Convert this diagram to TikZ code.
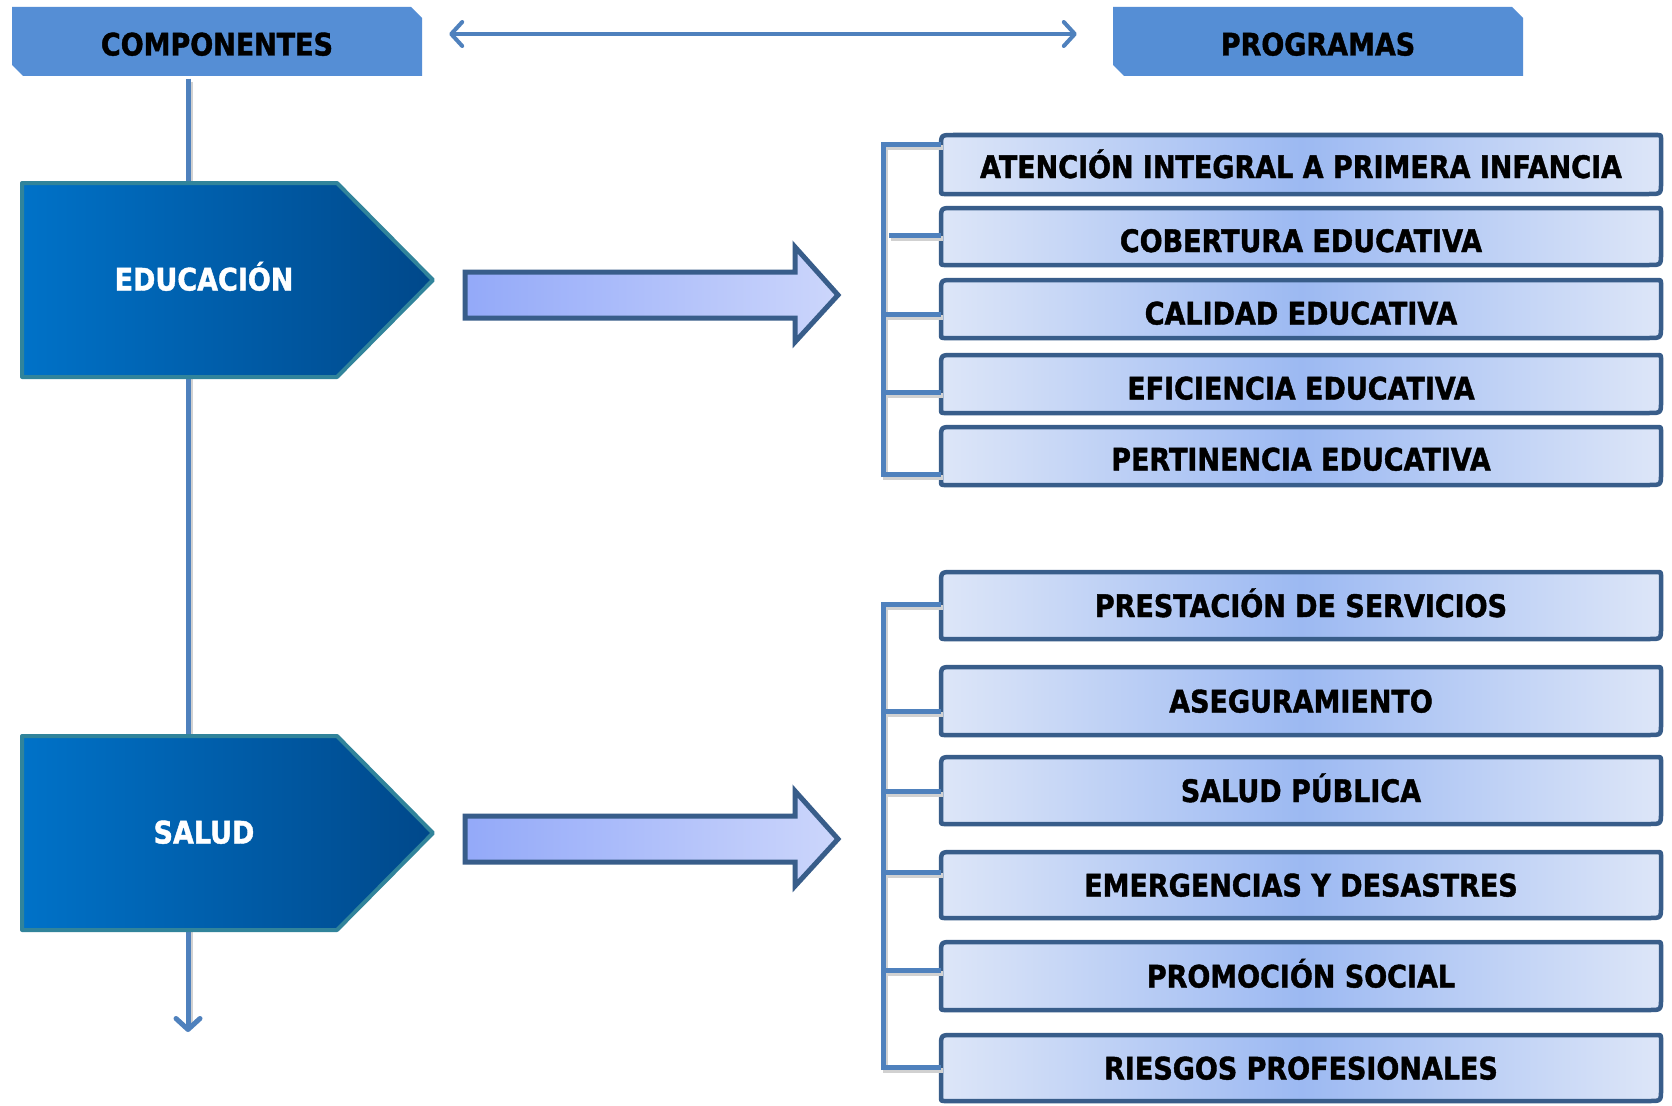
\documentclass[tikz,border=0pt]{standalone}
\usepackage{fontspec}
\setmainfont{DejaVu Sans}[FakeStretch=0.87, BoldFeatures={FakeBold=1.3}]
\usetikzlibrary{arrows.meta,calc}
\definecolor{hdr}{HTML}{558ED5}
\definecolor{conn}{HTML}{4F81BD}
\definecolor{pentb}{HTML}{31849B}
\definecolor{pentl}{HTML}{0072C8}
\definecolor{pentr}{HTML}{00488A}
\definecolor{arrb}{HTML}{385D8A}
\definecolor{arrl}{HTML}{93A9F9}
\definecolor{arrr}{HTML}{CCD6FB}
\definecolor{boxl}{HTML}{DDE6F8}
\definecolor{boxm}{HTML}{9CB9F2}
% optional node options, name, top, bottom (outer edges, px), text
\newcommand\progbox[5][]{%
  \path[boxshape] (941,{-#4+5}) -- (941,{-#3-14}) .. controls (941,{-#3-2}) .. (953,{-#3-2})
     -- (1658,{-#3-2}) .. controls (1661,{-#3-2}) .. (1661,{-#3-5})
     -- (1661,{-#4+14}) .. controls (1661,{-#4+2}) .. (1649,{-#4+2}) -- (944,{-#4+2}) .. controls (941,{-#4+2}) .. cycle;
  \node[lbl, minimum width=720pt, minimum height={(#4-#3-4)*1pt}, inner sep=0pt, #1] (#2) at (1301,{-(#3+#4)/2}) {#5};}
\begin{document}
\begin{tikzpicture}[x=1pt,y=1pt,
  lbl/.style={font=\fontsize{31}{36}\selectfont\bfseries, text=black, text height=23pt, text depth=0pt},
  wlbl/.style={font=\fontsize{31}{36}\selectfont\bfseries, text=white, text height=23pt, text depth=0pt},
  hdrshape/.style={fill=hdr},
  pentshape/.style={draw=pentb, line width=4pt, line join=round, left color=pentl, right color=pentr},
  blockarrow/.style={draw=arrb, line width=5pt, line join=miter, left color=arrl, right color=arrr},
  boxshape/.style={draw=arrb, line width=4.5pt, line join=round, left color=boxl, right color=boxl, middle color=boxm},
  tick/.style={draw=conn, line width=5pt},
  tickshadow/.style={draw=black!18, line width=5pt, transform canvas={shift={(2pt,-3pt)}}}
]
\useasboundingbox (0,0) rectangle (1672,-1105);
\fill[white] (0,0) rectangle (1672,-1105);

% headers
\path[hdrshape] (12,-7) -- (411,-7) -- (422,-18) -- (422,-76) -- (23,-76) -- (12,-65) -- cycle;
\node[lbl, minimum width=410pt, minimum height=69pt, inner sep=0pt] (comp) at (217,-44) {COMPONENTES};
\path[hdrshape] (1113,-7) -- (1512,-7) -- (1523,-18) -- (1523,-76) -- (1124,-76) -- (1113,-65) -- cycle;
\node[lbl, minimum width=410pt, minimum height=69pt, inner sep=0pt] (prog) at (1318,-44) {PROGRAMAS};

\draw[conn, line width=4pt, {Straight Barb[round,length=11pt,width=24pt]}-{Straight Barb[round,length=11pt,width=24pt]},
      shorten <=27pt, shorten >=36pt] ($(comp.east)+(0,10)$) -- ($(prog.west)+(0,10)$);

% vertical spine
\coordinate (vend) at (188,-1032);
\draw[tickshadow] (comp.south -| vend) -- ($(vend)+(0,12)$);
\draw[conn, line width=5pt, -{Straight Barb[round,length=11pt,width=24pt]}] (comp.south -| vend) -- (vend);

% pentagons
\path[pentshape] (22,-183) -- (337,-183) -- (433,-280) -- (337,-377) -- (22,-377) -- cycle;
\node[wlbl] (edu) at (204,-279) {EDUCACIÓN};
\path[pentshape] (22,-736) -- (337,-736) -- (433,-833) -- (337,-930) -- (22,-930) -- cycle;
\node[wlbl] (sal) at (204,-832) {SALUD};

% block arrows
\path[blockarrow] (465,-272) -- (795,-272) -- (795,-247) -- (838,-295) -- (795,-342) -- (795,-318) -- (465,-318) -- cycle;
\path[blockarrow] (465,-816) -- (795,-816) -- (795,-791) -- (838,-839) -- (795,-886) -- (795,-862) -- (465,-862) -- cycle;

% program boxes
\progbox[text height=27pt]{b1}{133}{196}{ATENCIÓN INTEGRAL A PRIMERA INFANCIA}
\progbox[text height=31pt]{b2}{206}{267}{COBERTURA EDUCATIVA}
\progbox[text height=31pt]{b3}{278}{340}{CALIDAD EDUCATIVA}
\progbox[text height=31pt]{b4}{353}{415}{EFICIENCIA EDUCATIVA}
\progbox[text height=29pt]{b5}{425}{487}{PERTINENCIA EDUCATIVA}
\progbox{b6}{570}{641}{PRESTACIÓN DE SERVICIOS}
\progbox{b7}{665}{737}{ASEGURAMIENTO}
\progbox{b8}{755}{826}{SALUD PÚBLICA}
\progbox{b9}{850}{920}{EMERGENCIAS Y DESASTRES}
\progbox{b10}{940}{1012}{PROMOCIÓN SOCIAL}
\progbox{b11}{1033}{1103}{RIESGOS PROFESIONALES}

% education bracket
\coordinate (e1) at (883,-144);
\coordinate (e2) at (889,-235);
\coordinate (e3) at (883,-314);
\coordinate (e4) at (883,-392);
\coordinate (e5) at (883,-474);
\draw[tickshadow] (e1 -| b1.west) -- (e1) -- (e5) -- (e5 -| b5.west);
\foreach \c/\b in {e2/b2,e3/b3,e4/b4} \draw[tickshadow] (\c) -- (\c -| \b.west);
\draw[tick] (e1 -| b1.west) -- (e1) -- (e5) -- (e5 -| b5.west);
\foreach \c/\b in {e2/b2,e3/b3,e4/b4} \draw[tick] (\c) -- (\c -| \b.west);

% health bracket
\coordinate (s1) at (883,-604);
\coordinate (s2) at (883,-711);
\coordinate (s3) at (883,-791);
\coordinate (s4) at (883,-872);
\coordinate (s5) at (883,-970);
\coordinate (s6) at (883,-1067);
\draw[tickshadow] (s1 -| b6.west) -- (s1) -- (s6) -- (s6 -| b11.west);
\foreach \c/\b in {s2/b7,s3/b8,s4/b9,s5/b10} \draw[tickshadow] (\c) -- (\c -| \b.west);
\draw[tick] (s1 -| b6.west) -- (s1) -- (s6) -- (s6 -| b11.west);
\foreach \c/\b in {s2/b7,s3/b8,s4/b9,s5/b10} \draw[tick] (\c) -- (\c -| \b.west);
\end{tikzpicture}
\end{document}
